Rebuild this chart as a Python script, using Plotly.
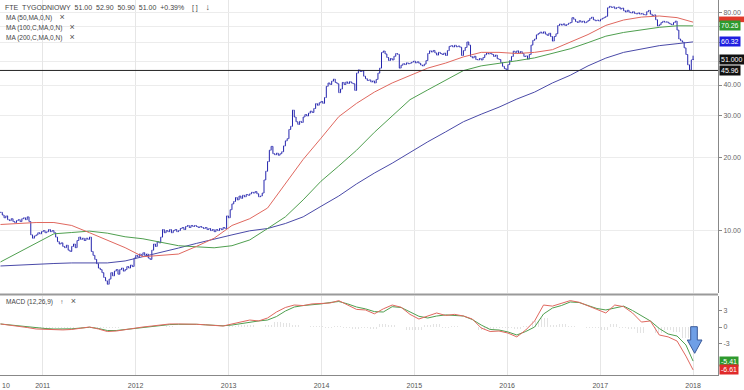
import math
import pandas as pd
import plotly.graph_objects as go
from plotly.subplots import make_subplots

# ---------------- data ----------------
START = "2010-07-19"          # first weekly bar
TITLE_PARTS = ["FTE", "TYGODNIOWY", "51.00", "52.90", "50.90", "51.00", "+0.39%"]

# weekly closes, Jul 2010 -> Jan 2018
CLOSE = [
    11.9, 11.6, 11.3, 11.5, 11.1, 11.0, 11.2, 10.9, 10.8, 11.0,
    11.1, 10.9, 11.2, 11.3, 11.1, 11.4, 10.9, 9.6, 9.3, 9.5,
    9.6, 9.8, 9.7, 9.9, 10.0, 9.8, 9.9, 10.1, 9.9, 10.0,
    9.8, 9.4, 9.0, 8.8, 8.9, 8.6, 8.5, 8.7, 8.3, 8.2,
    8.6, 8.8, 8.5, 9.1, 9.4, 9.2, 9.3, 9.1, 9.3, 9.2,
    9.4, 8.2, 7.9, 7.6, 7.3, 7.0, 6.9, 6.7, 6.4, 6.2,
    6.0, 6.3, 6.7, 6.5, 6.8, 6.9, 6.6, 6.9, 7.0, 6.8,
    6.9, 7.1, 7.0, 7.2, 7.1, 7.7, 7.9, 7.8, 8.0, 7.9,
    8.1, 7.9, 8.0, 7.7, 7.6, 8.3, 8.8, 8.6, 9.0, 8.9,
    9.4, 10.1, 9.8, 10.0, 9.9, 10.1, 9.8, 10.0, 10.1, 9.9,
    10.0, 10.2, 10.3, 10.1, 10.4, 10.5, 10.3, 10.5, 10.4, 10.5,
    10.4, 10.3, 10.4, 10.3, 10.2, 10.3, 10.1, 10.2, 10.0, 10.1,
    9.9, 10.1, 10.0, 10.2, 10.1, 10.3, 10.2, 11.5, 11.3, 12.2,
    12.9, 13.2, 13.7, 13.4, 13.9, 13.6, 14.0, 13.8, 14.1, 14.0,
    14.2, 14.4, 14.3, 14.5, 14.2, 13.8, 13.9, 14.3, 16.2, 17.6,
    19.3, 21.5, 22.3, 20.8, 20.6, 20.9, 20.5, 20.8, 21.2, 22.4,
    23.5, 24.0, 26.2, 27.0, 31.5, 29.5, 28.2, 27.5, 28.3, 28.0,
    29.5, 30.2, 29.8, 30.6, 31.2, 30.8, 32.0, 33.5, 33.0, 33.8,
    34.2, 33.6, 35.5, 39.5, 40.8, 40.2, 41.5, 42.3, 41.0, 40.5,
    37.2, 38.5, 41.0, 40.2, 41.2, 40.6, 41.3, 40.8, 40.5, 38.0,
    44.8, 46.2, 45.5, 45.8, 43.5, 42.5, 41.8, 42.0, 41.2, 41.6,
    40.8, 42.2, 44.8, 47.0, 54.5, 55.3, 53.8, 52.0, 50.5, 51.5,
    50.8, 52.6, 54.0, 53.6, 47.0, 48.3, 49.0, 48.6, 49.4, 49.0,
    49.3, 49.8, 50.2, 49.4, 49.9, 49.2, 48.4, 48.0, 48.8, 50.5,
    54.0, 55.4, 54.8, 55.6, 54.3, 53.2, 54.6, 54.0, 53.5, 54.2,
    53.0, 55.5, 57.8, 58.2, 57.5, 58.4, 57.6, 58.0, 57.3, 53.0,
    55.5, 57.2, 60.3, 58.5, 52.5, 51.8, 52.6, 51.0, 50.8, 51.5,
    50.8, 52.0, 53.4, 54.3, 53.8, 54.1, 53.5, 52.5, 53.2, 51.4,
    51.0, 49.5, 47.8, 46.8, 46.2, 48.6, 50.5, 52.5, 55.2, 54.6,
    55.4, 54.2, 55.0, 54.0, 52.5, 52.8, 51.2, 53.5, 58.5, 61.2,
    62.0, 64.5, 65.3, 66.2, 65.5, 66.4, 65.0, 64.2, 65.5, 63.5,
    60.8, 63.5, 65.2, 70.5, 71.5, 70.8, 71.6, 70.5, 71.2, 72.0,
    72.5, 76.0, 74.8, 73.2, 72.6, 73.8, 72.8, 73.5, 72.4, 73.0,
    74.0, 75.5, 76.3, 74.5, 73.8, 74.2, 73.6, 74.8, 75.5, 76.2,
    77.0, 83.5, 84.6, 83.8, 84.2, 82.8, 83.6, 84.0, 82.5, 83.2,
    81.2, 80.2, 81.5, 80.0, 79.5, 80.4, 79.2, 78.8, 79.5, 78.6,
    79.0, 78.2, 78.0, 80.5, 81.4, 78.6, 77.5, 78.0, 74.5, 70.2,
    71.0, 72.5, 73.4, 72.8, 73.0, 72.2, 71.5, 71.0, 72.5, 73.5,
    67.5, 62.0, 61.0, 60.2, 57.0, 53.5, 48.5, 46.2, 50.8, 51.0,
]
LAST_OPEN, LAST_HIGH, LAST_LOW, LAST_CLOSE = 51.00, 52.90, 50.90, 51.00
SUPPORT = 45.96
LAST_LABEL = "51.000"

# moving averages, read every 10 weeks (last point = last bar)
MA_WEEKS = list(range(0, 390, 10)) + [389]
MA50 = [10.6, 10.7, 10.8, 10.8, 10.5, 9.8, 9.1, 8.5, 7.8, 7.9,
        8.0, 8.6, 9.3, 10.5, 11.2, 12.4, 15.7, 19.7, 24.1, 29.6,
        33.6, 37.4, 40.8, 43.9, 47.0, 49.3, 52.3, 54.6, 54.6, 54.0,
        54.6, 56.0, 60.4, 64.7, 70.6, 74.3, 76.4, 77.2, 76.0, 72.8]
MA100 = [7.42, 8.13, 8.85, 9.7, 9.82, 9.95, 9.76, 9.43, 9.25, 8.93,
         8.66, 8.57, 8.49, 8.66, 9.15, 10.2, 11.4, 13.4, 16.0, 18.5,
         21.5, 25.5, 29.8, 34.8, 38.2, 41.9, 45.9, 48.0, 49.1, 50.4,
         51.8, 54.0, 56.5, 59.9, 63.7, 66.0, 67.6, 69.3, 70.3, 70.26]
MA200 = [7.14, 7.21, 7.28, 7.31, 7.35, 7.35, 7.35, 7.49, 7.79, 8.13,
         8.47, 8.85, 9.25, 9.6, 9.98, 10.2, 10.7, 11.4, 12.6, 13.9,
         15.6, 17.3, 19.0, 21.1, 23.3, 25.6, 28.2, 30.3, 32.4, 35.0,
         37.4, 40.8, 43.9, 48.0, 51.7, 54.6, 56.5, 58.2, 59.3, 60.32]

# MACD (12,26,9), read every 5 weeks
MACD_WEEKS = list(range(0, 390, 5)) + [389]
MACD = [0.55, 0.36, 0.18, -0.09, -0.36, -0.42, -0.47, -0.53, -0.45, -0.24,
        0.0, -0.36, -0.82, -0.73, -0.45, -0.18, 0.0, 0.18, 0.4, 0.55,
        0.55, 0.55, 0.5, 0.4, 0.31, 0.18, 0.55, 0.95, 1.27, 1.1,
        1.64, 2.73, 3.55, 4.0, 3.9, 4.2, 4.3, 4.36, 4.8, 4.0,
        3.2, 3.1, 2.4, 3.3, 4.0, 3.6, 2.3, 1.45, 2.0, 2.55,
        2.1, 2.3, 2.0, 1.45, -0.18, -0.82, -0.73, -1.1, -1.8, -0.55,
        1.1, 4.0, 3.8, 4.36, 4.8, 4.5, 3.8, 3.2, 2.55, 4.0,
        3.7, 2.55, 0.9, 1.1, -1.45, -1.8, -2.55, -5.3, -7.8]
SIGNAL = [0.55, 0.36, 0.18, 0.0, -0.18, -0.27, -0.36, -0.36, -0.33, -0.18,
          -0.05, -0.27, -0.64, -0.64, -0.45, -0.18, 0.0, 0.15, 0.31, 0.44,
          0.49, 0.53, 0.49, 0.4, 0.31, 0.22, 0.36, 0.64, 0.95, 1.1,
          1.27, 1.9, 2.9, 3.64, 3.9, 4.0, 4.2, 4.45, 4.64, 4.2,
          3.64, 3.3, 2.8, 2.73, 3.7, 3.55, 2.8, 1.95, 1.64, 2.0,
          2.2, 2.1, 2.0, 1.36, 0.36, -0.45, -0.55, -0.9, -1.45, -0.82,
          0.0, 2.36, 3.45, 3.9, 4.55, 4.45, 3.9, 3.36, 3.1, 3.45,
          3.8, 3.0, 2.0, 1.1, -0.27, -1.27, -1.64, -3.27, -6.2]
MACD_LABEL, SIGNAL_LABEL = "-6.61", "-5.41"

YEARS = [2011, 2012, 2013, 2014, 2015, 2016, 2017, 2018]
PRICE_TICKS = [10, 20, 30, 40, 80]
PRICE_GRID_EXTRA = [50, 60, 70]
MACD_TICKS = [3, 0, -3]

# ---------------- derived ----------------
start = pd.Timestamp(START)
dates = [start + pd.Timedelta(weeks=i) for i in range(len(CLOSE))]
opens = [CLOSE[0]] + CLOSE[:-1]
highs = [max(o, c) for o, c in zip(opens, CLOSE)]
lows = [min(o, c) for o, c in zip(opens, CLOSE)]
opens[-1], highs[-1], lows[-1] = LAST_OPEN, LAST_HIGH, LAST_LOW
closes = CLOSE[:-1] + [LAST_CLOSE]
ma_dates = [start + pd.Timedelta(weeks=i) for i in MA_WEEKS]
macd_dates = [start + pd.Timedelta(weeks=i) for i in MACD_WEEKS]
hist = [m - s for m, s in zip(MACD, SIGNAL)]

BLUE = "#2424ad"
RED_MA = "#e0685f"
GREEN_MA = "#4f9f4f"
BLUE_MA = "#4a4aa8"
FONT = "Liberation Sans, Arial, sans-serif"

fig = make_subplots(rows=2, cols=1, shared_xaxes=True)

fig.add_trace(go.Ohlc(x=dates, open=opens, high=highs, low=lows, close=closes,
                      increasing=dict(line=dict(color=BLUE, width=1)),
                      decreasing=dict(line=dict(color=BLUE, width=1)),
                      tickwidth=0.35, hoverinfo="skip", showlegend=False), row=1, col=1)
for vals, col in [(MA200, BLUE_MA), (MA100, GREEN_MA), (MA50, RED_MA)]:
    fig.add_trace(go.Scatter(x=ma_dates, y=vals, mode="lines", line=dict(color=col, width=1),
                             hoverinfo="skip", showlegend=False), row=1, col=1)

fig.add_trace(go.Bar(x=macd_dates, y=hist, width=5 * 7 * 86400000,
                     marker=dict(color="rgba(255,255,255,0)", line=dict(width=0),
                                 pattern=dict(shape="|", fgcolor="#c8c8c8", bgcolor="rgba(255,255,255,0)",
                                              size=3, solidity=0.35)),
                     hoverinfo="skip", showlegend=False), row=2, col=1)
fig.add_trace(go.Scatter(x=macd_dates, y=SIGNAL, mode="lines", line=dict(color=GREEN_MA, width=1),
                         hoverinfo="skip", showlegend=False), row=2, col=1)
fig.add_trace(go.Scatter(x=macd_dates, y=MACD, mode="lines", line=dict(color=RED_MA, width=1),
                         hoverinfo="skip", showlegend=False), row=2, col=1)

W, H, MT, MB, ML, MR = 744, 390, 0, 15, 0, 26
PH = H - MT - MB
main_dom = [(PH - 293) / PH, 1.0]
macd_dom = [0.0, (PH - 296) / PH]

xr = ["2010-07-17", "2018-04-09"]
tickvals = [f"{y}-01-01" for y in YEARS]
xcommon = dict(range=xr, tickvals=tickvals, showgrid=True, gridcolor="#e6e6e6", gridwidth=1,
               zeroline=False, rangeslider=dict(visible=False))
fig.update_layout(
    width=W, height=H, margin=dict(l=ML, r=MR, t=MT, b=MB),
    paper_bgcolor="white", plot_bgcolor="white", bargap=0,
    font=dict(family=FONT, size=7, color="#555"),
    xaxis=dict(**xcommon, domain=[0, 1], showticklabels=False, showline=False),
    xaxis2=dict(**xcommon, domain=[0, 1], ticktext=[str(y) for y in YEARS], showticklabels=True,
                tickfont=dict(size=7, color="#555"), showline=True, linecolor="#888", ticks="",
                ticklabelstandoff=4),
    yaxis=dict(domain=main_dom, type="log", side="right",
               range=[math.log10(5.52), math.log10(89.9)],
               tickvals=PRICE_TICKS, ticktext=[f"{v:.2f}" for v in PRICE_TICKS],
               showgrid=True, gridcolor="#ececec", showline=True, linecolor="#888",
               ticks="outside", ticklen=3, tickcolor="#888", tickfont=dict(size=7, color="#666"),
               minor=dict(tickvals=PRICE_GRID_EXTRA, showgrid=True, gridcolor="#ececec",
                          ticks="outside", ticklen=3, tickcolor="#888"),
               zeroline=False),
    yaxis2=dict(domain=macd_dom, side="right", range=[-8.73, 5.64],
                tickvals=MACD_TICKS, ticktext=[str(v) for v in MACD_TICKS],
                showgrid=False, showline=True, linecolor="#888", ticks="outside", ticklen=3,
                tickcolor="#888", tickfont=dict(size=7, color="#666"), zeroline=False),
)


def py(p):
    """pixel row -> paper y"""
    return (PH - p) / PH


def pxx(p):
    return p / (W - ML - MR)


shapes = [
    dict(type="line", xref="paper", x0=0, x1=1, yref="y", y0=SUPPORT, y1=SUPPORT,
         line=dict(color="#222", width=1)),
    dict(type="line", xref="paper", x0=0, x1=1, yref="paper", y0=py(294.5), y1=py(294.5),
         line=dict(color="#9a9a9a", width=2)),
    dict(type="path", xref="paper", yref="paper",
         path=(f"M {pxx(690.7)},{py(326.7)} L {pxx(697.3)},{py(326.7)} L {pxx(697.3)},{py(340)} "
               f"L {pxx(702)},{py(340)} L {pxx(694.7)},{py(353.3)} L {pxx(687.3)},{py(340)} "
               f"L {pxx(690.7)},{py(340)} Z"),
         fillcolor="#6f9fe6", line=dict(color="#3a5a9a", width=1)),
    # MA50 value tag, mostly hidden behind the MA100 tag
    dict(type="rect", xref="paper", yref="y", x0=1.0015, x1=1.038,
         y0=MA50[-1] * 1.0, y1=MA50[-1] * 1.055, fillcolor="#e03a2a", line=dict(width=0)),
]
fig.update_layout(shapes=shapes)

ann = []
SMALL = dict(family=FONT, size=6.5, color="#444")
XMARK = "<span style='font-size:9px;color:#555'>\u00d7</span>"
ann.append(dict(xref="paper", yref="paper", x=pxx(3), y=py(7), xanchor="left", yanchor="middle",
                text="\u00a0\u00a0".join(TITLE_PARTS) + "\u00a0\u00a0\u00a0\u00a0[ ]\u00a0\u00a0\u00a0\u00a0"
                     "<span style='font-size:9px'>\u2193</span>",
                showarrow=False, font=dict(family=FONT, size=7, color="#444")))
for i, t in enumerate(["MA (50,MA,0,N)", "MA (100,C,MA,0,N)", "MA (200,C,MA,0,N)"]):
    ann.append(dict(xref="paper", yref="paper", x=pxx(4), y=py(16.7 + 9.9 * i), xanchor="left",
                    yanchor="middle", text=t + "\u00a0\u00a0\u00a0\u00a0" + XMARK, showarrow=False,
                    font=SMALL))
ann.append(dict(xref="paper", yref="paper", x=pxx(4), y=py(300.5), xanchor="left", yanchor="middle",
                text="MACD (12,26,9)\u00a0\u00a0\u00a0\u00a0\u2191\u00a0\u00a0\u00a0\u00a0" + XMARK,
                showarrow=False, font=SMALL))
ann.append(dict(xref="paper", yref="paper", x=0, y=py(385), xanchor="left", yanchor="middle",
                text="10", showarrow=False, font=dict(family=FONT, size=7, color="#555")))


def box(yref, yv, text, bg):
    return dict(xref="paper", yref=yref, x=1, y=yv, xanchor="left", yanchor="middle", xshift=1,
                text=text, showarrow=False, bgcolor=bg, borderpad=1,
                font=dict(family=FONT, size=7, color="white"))


ann.append(box("y", math.log10(MA100[-1]), f"{MA100[-1]:.2f}", "#2e9a2e"))
ann.append(box("y", math.log10(MA200[-1]), f"{MA200[-1]:.2f}", "#1f1fe0"))
ann.append(box("y", math.log10(LAST_CLOSE), LAST_LABEL, "#111"))
ann.append(box("y", math.log10(SUPPORT), f"{SUPPORT:.2f}", "#111"))
ann.append(box("y2", SIGNAL[-1], SIGNAL_LABEL, "#2e9a2e"))
ann.append(box("y2", MACD[-1], MACD_LABEL, "#e02a2a"))
fig.update_layout(annotations=ann)

fig.write_html("out.html",
               config={"displayModeBar": False, "staticPlot": True},
               post_script="document.body.style.margin='0';document.body.style.padding='0';"
                           "document.body.style.overflow='hidden';")
